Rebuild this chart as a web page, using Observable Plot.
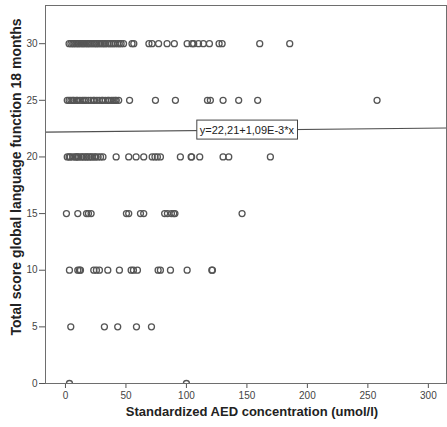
<!DOCTYPE html>
<html><head><meta charset="utf-8">
<script src="https://cdn.jsdelivr.net/npm/d3@7"></script>
<script src="https://cdn.jsdelivr.net/npm/@observablehq/plot@0.6"></script>
<style>body{margin:0;background:#fff} svg{display:block}</style>
</head><body><div id="chart"></div>
<script>
// AED concentration values (umol/l) per language score level
const scoreLevels = [30, 25, 20, 15, 10, 5, 0];
const conc30 = [3, 4.5, 6, 7, 8.5, 10, 11, 12.5, 14, 15, 16.5, 18, 19, 20.5, 22, 23.5, 25, 26, 27.5, 29, 30.5, 32, 33, 35, 36.5, 38, 39.5, 41, 43, 44.5, 46, 48,
  55, 56.5, 69, 71.6, 77, 84, 90, 100.6, 104.7, 106, 110, 114, 119, 127, 129.5, 160.6, 185.4];
const conc25 = [1.5, 3, 4.5, 6, 7, 9, 10, 12, 14, 15.5, 17, 19, 21, 23, 24, 26, 28, 30, 31, 33, 35, 36, 38, 39.5, 41, 42, 44,
  53, 74.4, 90.9, 117.4, 119.8, 130.3, 143.2, 158.9, 257.6];
const conc20 = [1.5, 3, 4, 6, 8, 9, 10, 11, 13, 14, 15.5, 17, 18, 19.5, 21, 22, 24, 25, 27, 29, 31,
  41.9, 52.3, 58.4, 64.7, 71.7, 74, 76, 78.5, 95, 103.9, 104.3, 111, 130.3, 135, 169.4];
const conc15 = [0.8, 10.2, 17.4, 19, 21.2, 50.4, 52.3, 62, 64.7, 82, 84.3, 87.6, 89.5, 90.5, 146];
const conc10 = [3.3, 10.2, 11.6, 12.4, 23.4, 25.6, 28.1, 35, 44.6, 54.3, 56.2, 59.5, 76.6, 78.5, 86.8, 100.6, 121, 121.5];
const conc5 = [4.4, 32.2, 43.2, 58.7, 71.1];
const conc0 = [3.3, 100];
const concentrations = [conc30, conc25, conc20, conc15, conc10, conc5, conc0];

const xTicks = [0, 50, 100, 150, 200, 250, 300];
const yTicks = [0, 5, 10, 15, 20, 25, 30];

// Fit line y = a + b*x
const intercept = 22.21;
const slope = 1.09e-3;
const fitLabel = "y=22,21+1,09E-3*x";
const fitLabelAt = 150;

const xLabel = "Standardized AED concentration (umol/l)";
const yLabel = "Total score global language function 18 months";

const points = scoreLevels.flatMap((s, i) => concentrations[i].map(x => ({x, y: s})));
const xDomain = [-16.5, 315];
const yDomain = [0, 33.37];
const fit = xDomain.map(x => ({x, y: intercept + slope * x}));

const chart = Plot.plot({
  width: 447, height: 427,
  marginLeft: 45, marginRight: 1, marginTop: 5, marginBottom: 44,
  style: {fontFamily: "'Liberation Sans', Arial, sans-serif", background: "#fff", color: "#444"},
  x: {domain: xDomain},
  y: {domain: yDomain},
  marks: [
    Plot.axisX({ticks: xTicks, tickSize: 5, tickPadding: 3, fontSize: 10, label: null, stroke: "#555"}),
    Plot.axisY({ticks: yTicks, tickSize: 6, tickPadding: 2, fontSize: 10, label: null, stroke: "#555"}),
    Plot.dot(points, {x: "x", y: "y", r: 3, stroke: "#555", strokeWidth: 1.3, clip: true}),
    Plot.line(fit, {x: "x", y: "y", stroke: "#505050", strokeWidth: 1.1}),
    Plot.text([fitLabel], {x: fitLabelAt, y: intercept + slope * fitLabelAt, text: d => d, fontSize: 11, fill: "#222", className: "fitlabel"}),
    Plot.frame({stroke: "#6e6e6e"})
  ]
});
document.getElementById("chart").append(chart);

const NS = "http://www.w3.org/2000/svg";
// white box behind the fit label
chart.querySelectorAll(".fitlabel text").forEach(t => {
  const b = t.getBBox();
  const r = document.createElementNS(NS, "rect");
  r.setAttribute("x", b.x - 3);
  r.setAttribute("y", b.y - 3.5);
  r.setAttribute("width", b.width + 6);
  r.setAttribute("height", b.height + 7);
  r.setAttribute("fill", "#fff");
  r.setAttribute("stroke", "#444");
  r.setAttribute("stroke-width", 1);
  if (t.getAttribute("transform")) r.setAttribute("transform", t.getAttribute("transform"));
  t.parentNode.insertBefore(r, t);
});

// axis titles
function addLabel(str, x, y, rot, size) {
  const t = document.createElementNS(NS, "text");
  t.setAttribute("transform", `translate(${x},${y})` + (rot ? ` rotate(${rot})` : ""));
  t.setAttribute("text-anchor", "middle");
  t.setAttribute("dominant-baseline", "middle");
  t.setAttribute("font-weight", "bold");
  t.setAttribute("font-size", size);
  t.setAttribute("font-family", "'Liberation Sans', Arial, sans-serif");
  t.setAttribute("fill", "#222");
  t.textContent = str;
  chart.append(t);
}
addLabel(xLabel, 252, 413, 0, 13);
addLabel(yLabel, 17, 177, -90, 14);
</script>
</body></html>
